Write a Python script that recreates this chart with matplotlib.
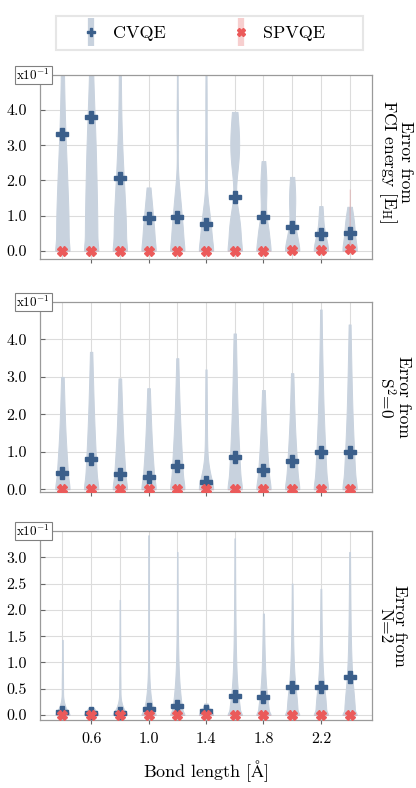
import numpy as np
import matplotlib
matplotlib.use("Agg")
import matplotlib.pyplot as plt
from matplotlib import cbook
from matplotlib.lines import Line2D
from matplotlib.patches import Rectangle

plt.rcParams['font.family'] = 'serif'
plt.rcParams['font.serif'] = ['cmr10']
plt.rcParams['mathtext.fontset'] = 'cm'
plt.rcParams['axes.formatter.use_mathtext'] = True

# ---------------- data (display units, x10^-1) ----------------
bond = [0.4, 0.6, 0.8, 1.0, 1.2, 1.4, 1.6, 1.8, 2.0, 2.2, 2.4]
xtick_vals = [0.6, 1.0, 1.4, 1.8, 2.2]

# mean markers
cvqe_mean_fci = [3.31, 3.80, 2.07, 0.93, 0.96, 0.76, 1.53, 0.95, 0.68, 0.47, 0.49]
cvqe_mean_s2 = [0.44, 0.80, 0.40, 0.32, 0.63, 0.19, 0.85, 0.52, 0.76, 0.99, 1.00]
cvqe_mean_n = [0.06, 0.04, 0.04, 0.11, 0.18, 0.08, 0.37, 0.35, 0.53, 0.53, 0.72]
spvqe_mean_fci = [0.0, 0.0, 0.0, 0.0, 0.0, 0.0, 0.0, 0.0, 0.01, 0.01, 0.05]
spvqe_mean_s2 = [0.0] * 11
spvqe_mean_n = [0.0] * 11

# violin samples, CVQE, error from FCI energy
fci_040 = [0, 0.25, 0.5, 0.75, 1.0, 1.25, 1.52, 1.8, 2.1, 2.42, 2.78, 3.2, 3.7, 4.35, 5.2, 6.5, 8.0]
fci_060 = [0, 0.25, 0.5, 0.75, 1.0, 1.26, 1.52, 1.79, 2.07, 2.36, 2.66, 2.97, 3.3, 3.65, 4.05, 4.55, 5.2, 6.2, 7.8]
fci_080 = [0, 0.25, 0.5, 0.75, 1.0, 1.27, 1.56, 1.88, 2.25, 2.7, 3.3, 4.3, 5.8, 7.5]
fci_100 = [0, 0.2, 0.4, 0.6, 0.82, 1.08, 1.38, 1.8]
fci_120 = [0, 0.2, 0.4, 0.6, 0.82, 1.08, 1.38, 1.75, 3.5, 6.0]
fci_140 = [0, 0.18, 0.36, 0.55, 0.76, 1.0, 1.3, 2.5, 4.0, 6.0]
fci_160 = [0, 0.22, 0.44, 0.66, 0.9, 1.15, 2.45, 2.7, 2.95, 3.2, 3.45, 3.7, 3.95]
fci_180 = [0, 0.2, 0.4, 0.6, 0.82, 1.45, 1.8, 2.15, 2.55]
fci_200 = [0, 0.18, 0.36, 0.56, 1.1, 1.45, 1.8, 2.1]
fci_220 = [0, 0.1, 0.2, 0.3, 0.4, 0.5, 0.85, 1.05, 1.27]
fci_240 = [0, 0.1, 0.2, 0.3, 0.42, 0.56, 0.68, 0.8, 0.92, 1.04, 1.25]

# violin samples, CVQE, error from S^2=0
s2_040 = [0, 0.2, 0.4, 0.6, 0.82, 1.06, 1.34, 1.68, 2.15, 2.6, 3.0]
s2_060 = [0, 0.2, 0.4, 0.6, 0.82, 1.05, 1.3, 1.58, 1.9, 2.28, 2.7, 3.15, 3.67]
s2_080 = [0, 0.2, 0.4, 0.6, 0.82, 1.06, 1.34, 1.68, 2.1, 2.5, 2.96]
s2_100 = [0, 0.2, 0.4, 0.6, 0.83, 1.1, 1.42, 1.8, 2.25, 2.7]
s2_120 = [0, 0.2, 0.4, 0.6, 0.82, 1.05, 1.3, 1.6, 1.95, 2.35, 2.9, 3.5]
s2_140 = [0, 0.12, 0.24, 0.36, 0.5, 0.9, 1.6, 2.4, 3.2]
s2_160 = [0, 0.2, 0.4, 0.6, 0.82, 1.05, 1.3, 1.58, 1.9, 2.28, 2.7, 3.2, 3.7, 4.16]
s2_180 = [0, 0.2, 0.4, 0.6, 0.83, 1.1, 1.42, 1.8, 2.2, 2.65]
s2_200 = [0, 0.2, 0.4, 0.6, 0.82, 1.06, 1.34, 1.68, 2.1, 2.6, 3.1]
s2_220 = [0, 0.2, 0.4, 0.6, 0.82, 1.05, 1.3, 1.58, 1.9, 2.28, 2.7, 3.2, 3.9, 4.8]
s2_240 = [0, 0.2, 0.4, 0.6, 0.82, 1.05, 1.3, 1.58, 1.9, 2.28, 2.7, 3.2, 3.75, 4.4]

# violin samples, CVQE, error from N=2
n_040 = [0, 0.04, 0.08, 0.13, 0.2, 0.5, 0.9, 1.43]
n_060 = [0, 0.03, 0.06, 0.1, 0.14]
n_080 = [0, 0.04, 0.08, 0.13, 0.2, 0.5, 1.0, 1.6, 2.19]
n_100 = [0, 0.05, 0.1, 0.16, 0.23, 0.32, 0.45, 0.62, 1.1, 1.8, 2.6, 3.42]
n_120 = [0, 0.07, 0.14, 0.22, 0.31, 0.41, 0.53, 0.68, 0.88, 1.15, 1.6, 2.3, 3.1]
n_140 = [0, 0.03, 0.06, 0.1, 0.15, 0.22]
n_160 = [0, 0.08, 0.16, 0.24, 0.33, 0.43, 0.56, 0.72, 0.92, 1.18, 1.5, 1.95, 2.6, 3.36]
n_180 = [0, 0.08, 0.16, 0.24, 0.33, 0.43, 0.56, 0.72, 0.92, 1.18, 1.5, 1.93]
n_200 = [0, 0.08, 0.16, 0.24, 0.32, 0.4, 0.49, 0.6, 0.74, 0.92, 1.15, 1.45, 1.9, 2.5]
n_220 = [0, 0.08, 0.16, 0.24, 0.32, 0.4, 0.49, 0.6, 0.74, 0.92, 1.15, 1.45, 1.85, 2.4]
n_240 = [0, 0.09, 0.18, 0.27, 0.36, 0.46, 0.57, 0.7, 0.86, 1.05, 1.3, 1.62, 2.05, 2.55, 3.1]

# violin samples, SPVQE (all near zero)
sp_small = [0, 0.005, 0.01, 0.02, 0.03]
sp_fci_240 = [0, 0.03, 0.07, 0.12, 0.18, 0.6, 1.1, 1.75]

cvqe_fci = [fci_040, fci_060, fci_080, fci_100, fci_120, fci_140, fci_160, fci_180, fci_200, fci_220, fci_240]
cvqe_s2 = [s2_040, s2_060, s2_080, s2_100, s2_120, s2_140, s2_160, s2_180, s2_200, s2_220, s2_240]
cvqe_n = [n_040, n_060, n_080, n_100, n_120, n_140, n_160, n_180, n_200, n_220, n_240]
spvqe_fci = [sp_small] * 10 + [sp_fci_240]
spvqe_s2 = [sp_small] * 11
spvqe_n = [sp_small] * 11

ylabels = ["Error from\nFCI energy [E$_\\mathrm{H}$]", "Error from\nS$^2$=0", "Error from\nN=2"]

# ---------------- style ----------------
c_blue = '#3b5f8b'
c_violin = '#c8d2de'
c_red = '#eb5a5a'
c_violin_red = '#f7cfcf'
grid_c = '#dcdcdc'
spine_c = '#9a9a9a'


def kde(b0, k):
    # gaussian KDE (reflected at zero) whose kernel width grows with the value
    def f(X, coords):
        X = np.asarray(X, float)
        bw = (b0 + k * np.abs(X))[None, :]
        d1 = (coords[:, None] - X[None, :]) / bw
        d2 = (coords[:, None] + X[None, :]) / bw
        refl = np.exp(-0.5 * d2 * d2) * (X[None, :] > 0)
        return ((np.exp(-0.5 * d1 * d1) + refl) / bw).sum(axis=1)
    return f


fig = plt.figure(figsize=(4.16, 7.88), dpi=100)
rects = [
    [40 / 416, 1 - 259.3 / 788, 332 / 416, 184.3 / 788],
    [40 / 416, 1 - 492.3 / 788, 332 / 416, 190.3 / 788],
    [40 / 416, 1 - 720 / 788, 332 / 416, 189 / 788],
]
ylims = [(-0.245, 5.0), (-0.08, 5.0), (-0.095, 3.5)]
yticks = [[0, 1, 2, 3, 4], [0, 1, 2, 3, 4], [0, 0.5, 1.0, 1.5, 2.0, 2.5, 3.0]]
kparams = [(0.2, 0.15), (0.2, 0.25), (0.05, 0.3)]
cv_sets = [cvqe_fci, cvqe_s2, cvqe_n]
sp_sets = [spvqe_fci, spvqe_s2, spvqe_n]
cv_means = [cvqe_mean_fci, cvqe_mean_s2, cvqe_mean_n]
sp_means = [spvqe_mean_fci, spvqe_mean_s2, spvqe_mean_n]
label_y = [0.53, 0.5, 0.5]

axes = []
for i in range(3):
    ax = fig.add_axes(rects[i])
    axes.append(ax)
    ax.set_axisbelow(True)
    st = cbook.violin_stats(cv_sets[i], kde(*kparams[i]), points=500)
    parts = ax.violin(st, positions=bond, widths=0.1, showmeans=False,
                      showextrema=False, showmedians=False)
    for b in parts['bodies']:
        b.set_facecolor(c_violin)
        b.set_edgecolor(c_violin)
        b.set_linewidth(0.7)
        b.set_alpha(1)
        b.set_zorder(2)
    st2 = cbook.violin_stats(sp_sets[i], kde(0.01, 0.2), points=300)
    parts2 = ax.violin(st2, positions=bond, widths=0.1, showmeans=False,
                       showextrema=False, showmedians=False)
    for b in parts2['bodies']:
        b.set_facecolor(c_red)
        b.set_edgecolor(c_red)
        b.set_linewidth(0.4)
        b.set_alpha(0.2)
        b.set_zorder(3)
    ax.plot(bond, cv_means[i], ls='', marker='P', ms=8, color=c_blue,
            mec=c_blue, zorder=5)
    ax.plot(bond, sp_means[i], ls='', marker='X', ms=6.5, color=c_red,
            mec=c_red, zorder=6)

    ax.set_xlim(0.244, 2.556)
    ax.set_ylim(*ylims[i])
    ax.set_yticks(yticks[i])
    ax.set_yticklabels([f"{v:.1f}" for v in yticks[i]], fontsize=11.5)
    ax.set_xticks(xtick_vals)
    ax.set_xticks(bond, minor=True)
    if i == 2:
        ax.set_xticklabels([f"{v:.1f}" for v in xtick_vals], fontsize=11.5)
    else:
        ax.set_xticklabels([])
    ax.grid(True, which='major', axis='y', color=grid_c, lw=0.8)
    ax.grid(True, which='both', axis='x', color=grid_c, lw=0.8)
    ax.tick_params(axis='y', which='major', direction='in', length=3.5,
                   width=0.8, color='#666666', pad=9.5)
    ax.tick_params(axis='x', which='major', direction='out', length=3,
                   width=0.8, color='#666666', pad=6)
    ax.tick_params(axis='x', which='minor', length=0)
    for s in ax.spines.values():
        s.set_color(spine_c)
        s.set_linewidth(0.9)
    ax.text(-0.02, 1.0, r"x10$^{\mathrm{-1}}$", transform=ax.transAxes,
            ha='center', va='center', fontsize=9.5, zorder=10,
            bbox=dict(boxstyle='square,pad=0.12', fc='white', ec='#808080', lw=0.8))
    ax.text(1.015, label_y[i], ylabels[i], transform=ax.transAxes,
            rotation=270, ha='left', va='center', multialignment='center',
            fontsize=12.5, linespacing=0.95)

axes[2].set_xlabel(r"Bond length [$\mathrm{\AA}$]", fontsize=13, labelpad=9)

# legend
h_cv = (Line2D([], [], ls='', marker='|', ms=20, mew=4.5, color=c_violin),
        Line2D([], [], ls='', marker='P', ms=6, color=c_blue))
h_sp = (Line2D([], [], ls='', marker='|', ms=20, mew=4.5, color=c_violin_red),
        Line2D([], [], ls='', marker='X', ms=5.5, color=c_red))
leg = fig.legend([h_cv, h_sp], ['CVQE', 'SPVQE'], loc='center left',
                 bbox_to_anchor=(80.7 / 416, 1 - 33.5 / 788), ncol=2, fontsize=13,
                 frameon=False, borderpad=0, borderaxespad=0,
                 handlelength=1.11, handletextpad=0.67, columnspacing=3.6)
fig.patches.append(Rectangle((56 / 416, 1 - 50 / 788), 306.7 / 416, 34 / 788,
                             transform=fig.transFigure, fill=False,
                             ec='#e6e6e6', lw=1.5))

fig.savefig("out.png", dpi=100)
